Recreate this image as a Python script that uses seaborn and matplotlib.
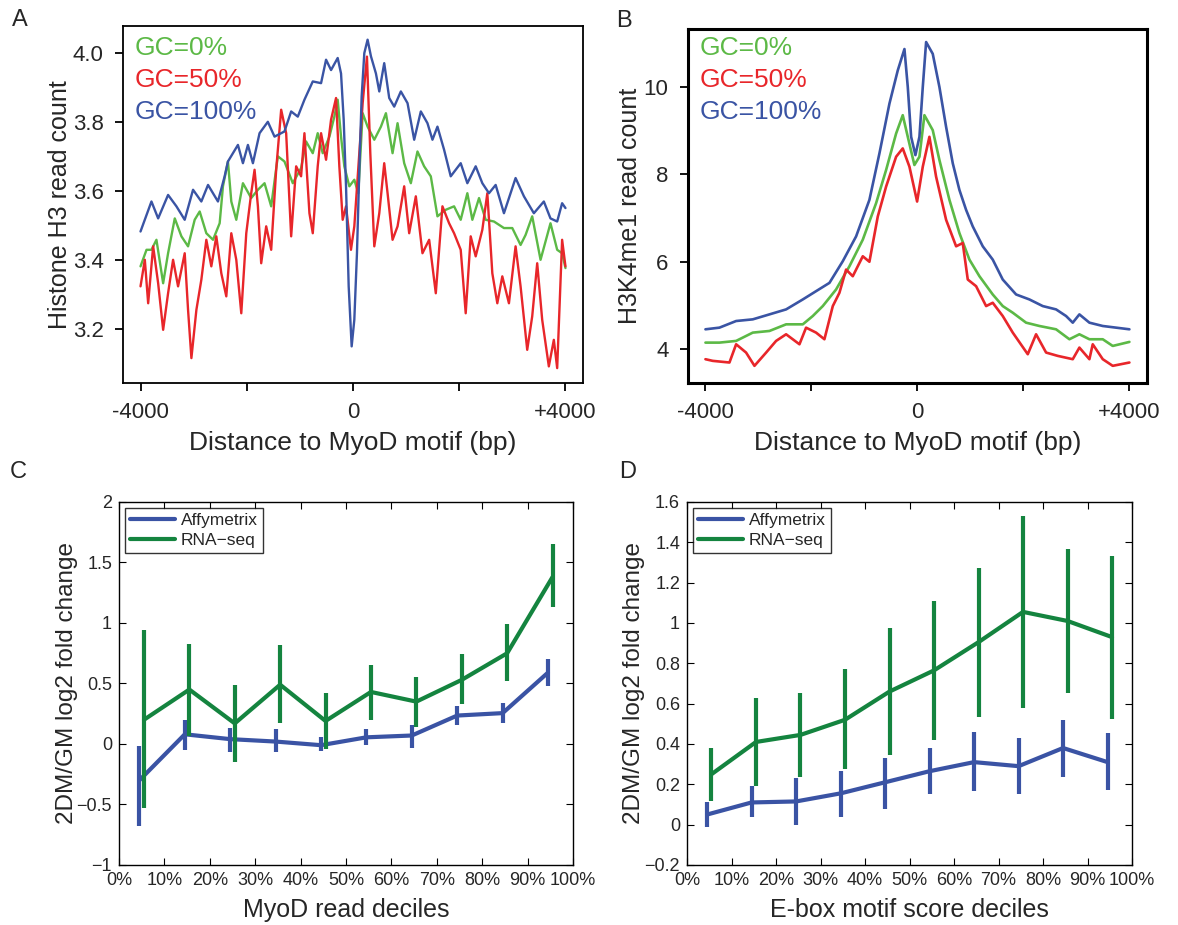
import numpy as np
import pandas as pd
import matplotlib
matplotlib.use("Agg")
import matplotlib.pyplot as plt
import seaborn as sns

# ---- panel A: histone H3 read count around MyoD motif ----
a_blue_x = [-4000, -3794, -3668, -3481, -3324, -3168, -3011, -2855, -2729, -2542, -2416, -2354,
            -2166, -2072, -1978, -1884, -1759, -1603, -1477, -1290, -1164, -1039, -914, -757,
            -601, -507, -413, -288, -225, -175, -131, -81, -25, 25, 75, 119, 163, 213, 275,
            338, 432, 495, 588, 682, 776, 901, 1027, 1152, 1277, 1402, 1496, 1590, 1715, 1840,
            2028, 2153, 2310, 2435, 2560, 2686, 2842, 3061, 3218, 3405, 3593, 3718, 3844,
            3937, 4000]
a_blue_y = [3.482, 3.569, 3.520, 3.588, 3.555, 3.516, 3.603, 3.569, 3.617, 3.569, 3.642, 3.685,
            3.733, 3.680, 3.733, 3.680, 3.767, 3.800, 3.757, 3.772, 3.830, 3.815, 3.864, 3.917,
            3.912, 3.980, 3.950, 3.985, 3.940, 3.806, 3.613, 3.323, 3.149, 3.226, 3.420, 3.661,
            3.873, 3.999, 4.038, 3.990, 3.940, 3.888, 3.970, 3.869, 3.844, 3.888, 3.854, 3.748,
            3.830, 3.796, 3.748, 3.786, 3.719, 3.642, 3.680, 3.622, 3.671, 3.622, 3.593, 3.617,
            3.535, 3.637, 3.584, 3.535, 3.569, 3.520, 3.511, 3.564, 3.550]

a_green_x = [-4000, -3887, -3794, -3700, -3574, -3481, -3355, -3230, -3105, -2980, -2886, -2761,
             -2635, -2510, -2448, -2354, -2291, -2197, -2072, -1916, -1790, -1665, -1540, -1415,
             -1290, -1133, -977, -883, -757, -664, -570, -444, -351, -288, -225, -163, -69, 25,
             100, 182, 275, 401, 526, 620, 745, 839, 964, 1089, 1214, 1339, 1465, 1590, 1747,
             1903, 2028, 2153, 2247, 2373, 2498, 2654, 2842, 2999, 3155, 3249, 3374, 3531, 3718,
             3844, 3937, 4000]
a_green_y = [3.381, 3.429, 3.429, 3.458, 3.332, 3.419, 3.520, 3.468, 3.439, 3.516, 3.540, 3.477,
             3.458, 3.506, 3.613, 3.685, 3.569, 3.516, 3.622, 3.579, 3.603, 3.622, 3.555, 3.700,
             3.685, 3.622, 3.666, 3.743, 3.709, 3.767, 3.709, 3.757, 3.815, 3.864, 3.757, 3.671,
             3.613, 3.632, 3.593, 3.825, 3.786, 3.748, 3.786, 3.825, 3.709, 3.796, 3.680, 3.622,
             3.714, 3.671, 3.642, 3.526, 3.545, 3.555, 3.516, 3.593, 3.516, 3.579, 3.516, 3.511,
             3.492, 3.492, 3.443, 3.472, 3.526, 3.400, 3.506, 3.429, 3.419, 3.376]

a_red_x = [-4000, -3919, -3856, -3762, -3668, -3574, -3481, -3387, -3293, -3168, -3105, -3042,
           -2948, -2855, -2761, -2667, -2573, -2479, -2385, -2291, -2197, -2103, -2009, -1916,
           -1853, -1790, -1728, -1634, -1540, -1446, -1352, -1258, -1164, -1070, -977, -914,
           -820, -757, -664, -601, -507, -413, -319, -257, -194, -131, -38, 25, 119, 182, 263,
           326, 401, 495, 588, 651, 745, 839, 964, 1058, 1183, 1308, 1434, 1559, 1684, 1809,
           1903, 2028, 2122, 2216, 2310, 2435, 2529, 2623, 2717, 2811, 2936, 3061, 3155, 3280,
           3374, 3468, 3562, 3687, 3781, 3844, 3937, 4000]
a_red_y = [3.323, 3.400, 3.274, 3.439, 3.332, 3.197, 3.303, 3.400, 3.323, 3.419, 3.255, 3.115,
           3.255, 3.342, 3.458, 3.381, 3.468, 3.361, 3.294, 3.477, 3.400, 3.245, 3.477, 3.593,
           3.661, 3.555, 3.390, 3.497, 3.429, 3.661, 3.835, 3.767, 3.468, 3.671, 3.642, 3.767,
           3.535, 3.477, 3.671, 3.767, 3.690, 3.806, 3.869, 3.671, 3.516, 3.555, 3.429, 3.497,
           3.709, 3.854, 3.989, 3.709, 3.439, 3.535, 3.680, 3.593, 3.458, 3.497, 3.613, 3.477,
           3.584, 3.419, 3.458, 3.303, 3.555, 3.506, 3.477, 3.429, 3.245, 3.468, 3.410, 3.487,
           3.593, 3.361, 3.274, 3.352, 3.274, 3.439, 3.323, 3.139, 3.236, 3.390, 3.226, 3.091,
           3.168, 3.086, 3.458, 3.381]

# ---- panel B: H3K4me1 read count ----
b_blue_x = [-4000, -3736, -3421, -3107, -2792, -2478, -2163, -1912, -1660, -1409, -1157, -906,
            -717, -528, -371, -245, -182, -119, -38, 38, 101, 164, 289, 415, 541, 667, 792, 918,
            1044, 1233, 1421, 1610, 1862, 2113, 2365, 2616, 2805, 2931, 3056, 3245, 3497, 3748,
            4000]
b_blue_y = [4.449, 4.487, 4.639, 4.677, 4.791, 4.905, 5.133, 5.323, 5.513, 6.008, 6.578, 7.414,
            8.479, 9.620, 10.38, 10.87, 10.00, 8.860, 8.440, 8.860, 10.00, 11.03, 10.76, 10.00,
            9.087, 8.251, 7.643, 7.186, 6.806, 6.350, 6.046, 5.589, 5.247, 5.133, 4.981, 4.905,
            4.753, 4.601, 4.791, 4.601, 4.525, 4.487, 4.449]

b_green_x = [-4000, -3736, -3421, -3107, -2792, -2478, -2163, -1975, -1786, -1535, -1283, -1031,
             -780, -591, -402, -277, -182, -57, 38, 132, 289, 415, 604, 792, 981, 1170, 1421,
             1610, 1799, 2050, 2302, 2616, 2868, 3056, 3245, 3497, 3685, 4000]
b_green_y = [4.144, 4.144, 4.183, 4.373, 4.411, 4.563, 4.563, 4.753, 4.981, 5.361, 5.894, 6.502,
             7.338, 8.099, 8.935, 9.354, 8.859, 8.213, 8.403, 9.354, 9.011, 8.327, 7.414, 6.654,
             6.046, 5.665, 5.247, 4.981, 4.829, 4.601, 4.525, 4.449, 4.221, 4.335, 4.221, 4.221,
             4.068, 4.160]

b_red_x = [-4000, -3862, -3547, -3421, -3233, -3075, -2855, -2667, -2478, -2226, -2101, -1912,
           -1755, -1597, -1472, -1346, -1220, -1031, -906, -748, -591, -402, -277, -151, -6, 101,
           226, 352, 541, 730, 855, 950, 1107, 1296, 1421, 1610, 1799, 2082, 2239, 2428, 2648,
           2931, 3056, 3245, 3308, 3497, 3685, 4000]
b_red_y = [3.764, 3.726, 3.688, 4.106, 3.916, 3.612, 3.916, 4.183, 4.335, 4.106, 4.487, 4.373,
           4.221, 4.981, 5.285, 5.817, 5.665, 6.122, 5.996, 7.034, 7.719, 8.403, 8.593, 8.175,
           7.376, 8.175, 8.859, 7.947, 6.958, 6.350, 6.426, 5.589, 5.437, 4.981, 5.057, 4.753,
           4.373, 3.878, 4.335, 3.916, 3.840, 3.764, 4.030, 3.764, 4.106, 3.764, 3.612, 3.688]

# ---- panels C and D: deciles ----
affy_x = [4.5, 14.5, 24.5, 34.5, 44.5, 54.5, 64.5, 74.5, 84.5, 94.5]
rna_x = [5.5, 15.5, 25.5, 35.5, 45.5, 55.5, 65.5, 75.5, 85.5, 95.5]

c_affy = [-0.30, 0.08, 0.04, 0.02, -0.01, 0.055, 0.07, 0.235, 0.255, 0.59]
c_affy_lo = [-0.68, -0.05, -0.07, -0.07, -0.06, -0.01, -0.03, 0.16, 0.17, 0.48]
c_affy_hi = [-0.02, 0.20, 0.13, 0.12, 0.06, 0.12, 0.16, 0.31, 0.34, 0.70]
c_rna = [0.20, 0.45, 0.17, 0.49, 0.19, 0.43, 0.35, 0.53, 0.75, 1.38]
c_rna_lo = [-0.53, 0.07, -0.15, 0.17, -0.04, 0.20, 0.14, 0.33, 0.52, 1.13]
c_rna_hi = [0.94, 0.83, 0.49, 0.82, 0.42, 0.65, 0.55, 0.74, 0.99, 1.65]

d_affy = [0.05, 0.11, 0.115, 0.155, 0.21, 0.265, 0.31, 0.29, 0.38, 0.31]
d_affy_lo = [-0.01, 0.04, 0.0, 0.04, 0.08, 0.15, 0.165, 0.15, 0.235, 0.17]
d_affy_hi = [0.11, 0.19, 0.23, 0.265, 0.33, 0.38, 0.46, 0.43, 0.52, 0.455]
d_rna = [0.25, 0.41, 0.445, 0.52, 0.66, 0.765, 0.905, 1.055, 1.01, 0.93]
d_rna_lo = [0.115, 0.19, 0.235, 0.275, 0.345, 0.42, 0.535, 0.58, 0.655, 0.525]
d_rna_hi = [0.38, 0.63, 0.655, 0.77, 0.975, 1.11, 1.275, 1.53, 1.365, 1.33]

gc_labels = ["GC=0%", "GC=50%", "GC=100%"]
gc_colors = ["#5cb946", "#e8262a", "#3a54a4"]
affy_color = "#3a53a4"
rna_color = "#14843f"

sns.set_theme(style="white")
plt.rcParams["font.family"] = ["Liberation Sans", "DejaVu Sans"]

fig = plt.figure(figsize=(11.78, 9.25), dpi=100)
axA = fig.add_axes([0.1044, 0.586, 0.3905, 0.386])
axB = fig.add_axes([0.584, 0.586, 0.3896, 0.3827])
axC = fig.add_axes([0.101, 0.0649, 0.3854, 0.3924])
axD = fig.add_axes([0.5832, 0.0649, 0.3778, 0.3924])


def profile_panel(ax, series, lw, ylim, yticks, yticklabels, ylabel, spine_w, text_y):
    for (x, y), c in zip(series, gc_colors):
        sns.lineplot(x=x, y=y, ax=ax, color=c, lw=lw)
    ax.set_xlim(-4330, 4330)
    ax.set_ylim(*ylim)
    ax.set_xticks([-4000, -2000, 0, 2000, 4000])
    ax.set_xticklabels(["-4000", "", "0", "", "+4000"], fontsize=16)
    ax.set_yticks(yticks)
    ax.set_yticklabels(yticklabels, fontsize=16)
    ax.tick_params(direction="out", length=6, width=1.3, color="black", pad=8,
                   bottom=True, left=True)
    for s in ax.spines.values():
        s.set_color("black")
        s.set_linewidth(spine_w)
    ax.set_xlabel("Distance to MyoD motif (bp)", fontsize=19)
    ax.set_ylabel(ylabel, fontsize=18)
    ax.xaxis.set_label_coords(0.5, -0.135)
    for lab, c, ty in zip(gc_labels, gc_colors, text_y):
        ax.text(0.026, ty, lab, color=c, fontsize=19, transform=ax.transAxes,
                va="center", ha="left")


profile_panel(axA, [(a_green_x, a_green_y), (a_red_x, a_red_y), (a_blue_x, a_blue_y)],
              1.7, (3.043, 4.078), [3.2, 3.4, 3.6, 3.8, 4.0],
              ["3.2", "3.4", "3.6", "3.8", "4.0"], "Histone H3 read count", 1.3,
              [0.938, 0.849, 0.759])
axA.yaxis.set_label_coords(-0.111, 0.5)

profile_panel(axB, [(b_green_x, b_green_y), (b_red_x, b_red_y), (b_blue_x, b_blue_y)],
              1.9, (3.22, 11.33), [4, 6, 8, 10], ["4", "6", "8", "10"],
              "H3K4me1 read count", 2.2, [0.946, 0.856, 0.766])
axB.yaxis.set_label_coords(-0.10, 0.5)


def fmt(v):
    s = f"{v:g}"
    return s.replace("-", "\u2212")


def decile_panel(ax, affy, affy_lo, affy_hi, rna, rna_lo, rna_hi, ylim, yticks, xlabel):
    for x, y, lo, hi, c, lab in [(affy_x, affy, affy_lo, affy_hi, affy_color, "Affymetrix"),
                                 (rna_x, rna, rna_lo, rna_hi, rna_color, "RNA\u2212seq")]:
        sns.lineplot(x=x, y=y, ax=ax, color=c, lw=3, label=lab)
        ax.vlines(x, lo, hi, color=c, lw=3)
    ax.set_xlim(0, 100)
    ax.set_ylim(*ylim)
    ax.set_xticks(range(0, 101, 10))
    ax.set_xticklabels([f"{t}%" for t in range(0, 101, 10)], fontsize=13)
    ax.set_yticks(yticks)
    ax.set_yticklabels([fmt(t) for t in yticks], fontsize=13)
    ax.tick_params(direction="in", length=5, width=0.8, color="black", pad=5,
                   bottom=True, left=True, top=True, right=True)
    for s in ax.spines.values():
        s.set_color("black")
        s.set_linewidth(1.0)
    ax.set_xlabel(xlabel, fontsize=18)
    ax.set_ylabel("2DM/GM log2 fold change", fontsize=17.5)
    ax.xaxis.set_label_coords(0.5, -0.09)
    leg = ax.legend(loc="upper left", fontsize=12.5, frameon=True, fancybox=False,
                    borderaxespad=0.35, handlelength=2.6, borderpad=0.3, labelspacing=0.25,
                    handletextpad=0.3)
    leg.get_frame().set_edgecolor("black")
    leg.get_frame().set_linewidth(1.0)


decile_panel(axC, c_affy, c_affy_lo, c_affy_hi, c_rna, c_rna_lo, c_rna_hi, (-1, 2),
             [-1, -0.5, 0, 0.5, 1, 1.5, 2], "MyoD read deciles")
axC.yaxis.set_label_coords(-0.09, 0.5)

decile_panel(axD, d_affy, d_affy_lo, d_affy_hi, d_rna, d_rna_lo, d_rna_hi, (-0.2, 1.6),
             [-0.2, 0, 0.2, 0.4, 0.6, 0.8, 1.0, 1.2, 1.4, 1.6], "E-box motif score deciles")
axD.yaxis.set_label_coords(-0.094, 0.5)

for lab, x, y in [("A", 20, 20), ("B", 624, 21), ("C", 18, 472), ("D", 628, 472)]:
    fig.text(x / 1178, 1 - y / 925, lab, fontsize=17, ha="center", va="center")

fig.savefig("out.png", dpi=100)
